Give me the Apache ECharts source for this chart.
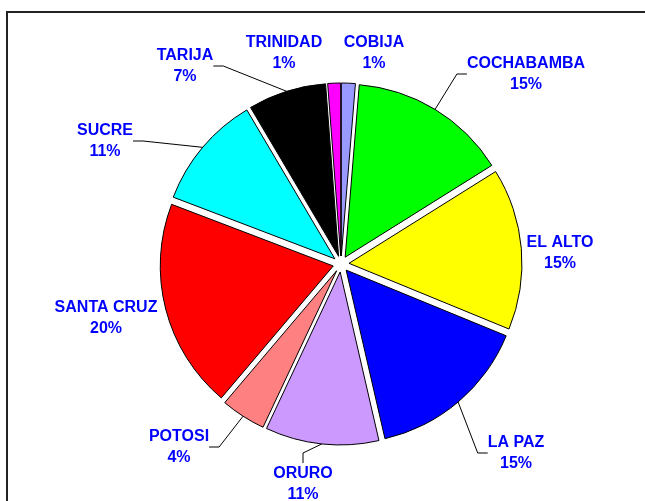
<!DOCTYPE html>
<html>
<head>
<meta charset="utf-8">
<script src="https://cdn.jsdelivr.net/npm/echarts@6/dist/echarts.min.js"></script>
<style>
  html, body { margin: 0; padding: 0; background: #fff; }
  #chart { width: 645px; height: 501px; }
</style>
</head>
<body>
<div id="chart"></div>
<script>
// slices, clockwise from 12 o'clock
const cities = ['COBIJA', 'COCHABAMBA', 'EL ALTO', 'LA PAZ', 'ORURO', 'POTOSI', 'SANTA CRUZ', 'SUCRE', 'TARIJA', 'TRINIDAD']
const shares = [1.3, 14.8, 15.1, 15.2, 10.6, 4.2, 19.6, 10.7, 7.3, 1.2]

// styling (kept apart from the values)
const sliceColors = ['#9999FF', '#00FF00', '#FFFF00', '#0000FF', '#CC99FF', '#FF8080', '#FF0000', '#00FFFF', '#000000', '#FF00FF']
const labelSpots = [[374, 53], [526, 74], [560, 253], [516, 453], [303, 484], [179, 447], [106, 318], [105, 141], [185, 66], [284, 53]]
const leaderShown = [false, true, false, true, true, true, false, true, true, false]

const pieCenter = [341, 264]
const pieRadius = 173
const explode = 8

const chart = echarts.init(document.getElementById('chart'))

const option = {
  animation: false,
  graphic: [{
    type: 'rect',
    shape: { x: 7, y: 12, width: 800, height: 700 },
    style: { fill: 'none', stroke: '#222', lineWidth: 2 },
    silent: true
  }],
  series: [
    {
      // the exploded slices
      type: 'pie',
      center: pieCenter,
      radius: pieRadius,
      startAngle: 90,
      selectedMode: 'multiple',
      selectedOffset: explode,
      emphasis: { disabled: true },
      silent: true,
      itemStyle: { borderColor: '#000', borderWidth: 1 },
      label: { show: false },
      labelLine: { show: false },
      data: cities.map((name, i) => ({
        name: name,
        value: shares[i],
        selected: true,
        itemStyle: { color: sliceColors[i] }
      }))
    },
    {
      // invisible ring at the exploded outer edge, carries the labels
      type: 'pie',
      center: pieCenter,
      radius: pieRadius + explode,
      startAngle: 90,
      percentPrecision: 0,
      avoidLabelOverlap: false,
      emphasis: { disabled: true },
      silent: true,
      z: 3,
      itemStyle: { color: 'rgba(0,0,0,0)', borderWidth: 0 },
      label: {
        position: 'outside',
        formatter: '{b}\n{d}%',
        color: '#0000FF',
        fontFamily: 'Liberation Sans, Arial, sans-serif',
        fontWeight: 'bold',
        fontSize: 16,
        lineHeight: 21,
        align: 'center'
      },
      labelLine: {
        length: 10,
        length2: 10,
        lineStyle: { color: '#000', width: 1 }
      },
      labelLayout: function (params) {
        const spot = labelSpots[params.dataIndex]
        return { x: spot[0], y: spot[1], align: 'center', verticalAlign: 'middle' }
      },
      data: cities.map((name, i) => ({
        name: name,
        value: shares[i],
        labelLine: { show: leaderShown[i] }
      }))
    }
  ]
}

chart.setOption(option)
</script>
</body>
</html>
